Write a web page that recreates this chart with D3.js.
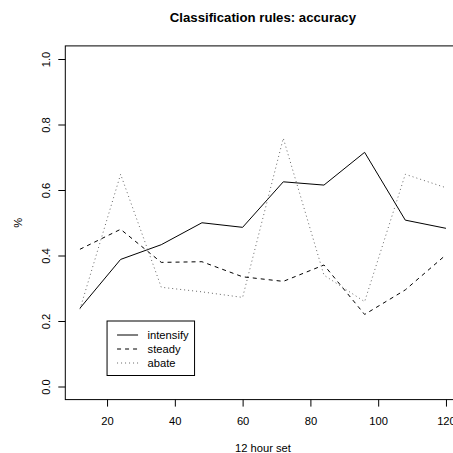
<!DOCTYPE html>
<html><head><meta charset="utf-8">
<script src="https://cdn.jsdelivr.net/npm/d3@7"></script>
<style>body{margin:0;background:#fff}svg{display:block}text{font-family:"Liberation Sans",Arial,sans-serif}</style>
</head><body><svg id="c" width="453" height="453"></svg>
<script>
const hours = [12,24,36,48,60,72,84,96,108,120];
const intensify = [0.239,0.388,0.433,0.500,0.486,0.625,0.615,0.715,0.508,0.483];
const steady = [0.419,0.480,0.379,0.381,0.335,0.321,0.371,0.220,0.295,0.402];
const abate = [0.236,0.648,0.303,0.289,0.272,0.758,0.340,0.259,0.648,0.607];
const seriesNames = ["intensify","steady","abate"];
const xTicks = [20,40,60,80,100,120];
const yTicks = [0.0,0.2,0.4,0.6,0.8,1.0];

const svg = d3.select("#c");
const L = 65.3, R = 460.6, T = 45.9, B = 399.6;
const x = d3.scaleLinear().domain([7.68,124.32]).range([L,R]);
const y = d3.scaleLinear().domain([-0.04,1.04]).range([B,T]);

svg.append("text").attr("x",(L+R)/2).attr("y",22).attr("text-anchor","middle")
  .style("font-weight","bold").style("font-size","13.2px").text("Classification rules: accuracy");

const xa = svg.append("g").attr("transform",`translate(0,${B})`)
  .call(d3.axisBottom(x).tickValues(xTicks).tickSize(7).tickPadding(10).tickFormat(d3.format("d")));
xa.select(".domain").remove();
xa.selectAll("text").style("font-size","11.2px").attr("fill","#000");
xa.selectAll("line").attr("stroke","#000");

const ya = svg.append("g").attr("transform",`translate(${L},0)`)
  .call(d3.axisLeft(y).tickValues(yTicks).tickSize(7).tickFormat(d3.format(".1f")));
ya.select(".domain").remove();
ya.selectAll("line").attr("stroke","#000");
ya.selectAll("text").attr("x",0).attr("dy",null)
  .attr("transform","translate(-15.8,0) rotate(-90)")
  .attr("text-anchor","middle").attr("dominant-baseline","auto")
  .style("font-size","11.2px").attr("fill","#000");

svg.append("text").attr("x",(L+R)/2).attr("y",451.5).attr("text-anchor","middle")
  .style("font-size","11.2px").text("12 hour set");
svg.append("text").attr("transform",`translate(21.5,${(T+B)/2}) rotate(-90)`)
  .attr("text-anchor","middle").style("font-size","11.2px").text("%");

svg.append("rect").attr("x",L).attr("y",T).attr("width",R-L).attr("height",B-T)
  .attr("fill","none").attr("stroke","#000").attr("stroke-width",1);

const dashes = [null,"4,4","1,3"];
const colors = ["#000","#000","#666"];
const allSeries = [intensify,steady,abate];
const line = d3.line().x((d,i)=>x(hours[i])).y(d=>y(d));
allSeries.forEach((s,k)=>{
  svg.append("path").datum(s).attr("d",line).attr("fill","none")
    .attr("stroke",colors[k]).attr("stroke-width",1)
    .attr("stroke-dasharray",dashes[k]);
});

const lx = x(20), ly = y(0.2);
const lg = svg.append("g");
lg.append("rect").attr("x",lx).attr("y",ly).attr("width",87.5).attr("height",54.5)
  .attr("fill","#fff").attr("stroke","#000").attr("stroke-width",1);
seriesNames.forEach((n,k)=>{
  const yy = ly + 14 + k*14;
  lg.append("line").attr("x1",lx+10).attr("x2",lx+31).attr("y1",yy).attr("y2",yy)
    .attr("stroke",colors[k]).attr("stroke-width",1).attr("stroke-dasharray",dashes[k]);
  lg.append("text").attr("x",lx+40.5).attr("y",yy+4).style("font-size","11.2px").text(n);
});
</script></body></html>
